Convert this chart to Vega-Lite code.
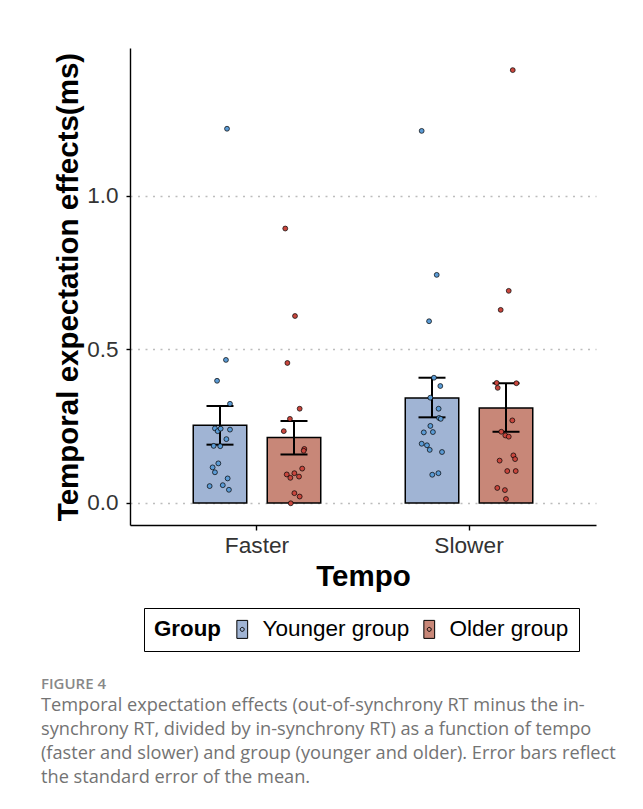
{
  "$schema": "https://vega.github.io/schema/vega-lite/v6.json",
  "width": 466,
  "height": 477,
  "autosize": {"type": "none"},
  "padding": {"left": 130, "top": 48, "right": 47, "bottom": 284},
  "background": "white",
  "config": {
    "font": "Liberation Sans",
    "view": {"stroke": null}
  },
  "datasets": {
    "summary": [
      {"tempo": "Faster", "group": "Younger group", "mean": 0.253, "lo": 0.190, "hi": 0.316},
      {"tempo": "Faster", "group": "Older group", "mean": 0.213, "lo": 0.158, "hi": 0.267},
      {"tempo": "Slower", "group": "Younger group", "mean": 0.342, "lo": 0.279, "hi": 0.408},
      {"tempo": "Slower", "group": "Older group", "mean": 0.309, "lo": 0.232, "hi": 0.390}
    ],
    "points": [
      {"tempo": "Faster", "group": "Younger group", "xpos": 0.858, "value": 1.219},
      {"tempo": "Faster", "group": "Younger group", "xpos": 0.853, "value": 0.466},
      {"tempo": "Faster", "group": "Younger group", "xpos": 0.811, "value": 0.398},
      {"tempo": "Faster", "group": "Younger group", "xpos": 0.872, "value": 0.323},
      {"tempo": "Faster", "group": "Younger group", "xpos": 0.801, "value": 0.243},
      {"tempo": "Faster", "group": "Younger group", "xpos": 0.814, "value": 0.234},
      {"tempo": "Faster", "group": "Younger group", "xpos": 0.828, "value": 0.242},
      {"tempo": "Faster", "group": "Younger group", "xpos": 0.872, "value": 0.239},
      {"tempo": "Faster", "group": "Younger group", "xpos": 0.855, "value": 0.208},
      {"tempo": "Faster", "group": "Younger group", "xpos": 0.795, "value": 0.186},
      {"tempo": "Faster", "group": "Younger group", "xpos": 0.826, "value": 0.185},
      {"tempo": "Faster", "group": "Younger group", "xpos": 0.817, "value": 0.129},
      {"tempo": "Faster", "group": "Younger group", "xpos": 0.790, "value": 0.116},
      {"tempo": "Faster", "group": "Younger group", "xpos": 0.801, "value": 0.100},
      {"tempo": "Faster", "group": "Younger group", "xpos": 0.861, "value": 0.080},
      {"tempo": "Faster", "group": "Younger group", "xpos": 0.776, "value": 0.055},
      {"tempo": "Faster", "group": "Younger group", "xpos": 0.838, "value": 0.058},
      {"tempo": "Faster", "group": "Younger group", "xpos": 0.867, "value": 0.043},
      {"tempo": "Faster", "group": "Older group", "xpos": 1.133, "value": 0.894},
      {"tempo": "Faster", "group": "Older group", "xpos": 1.179, "value": 0.609},
      {"tempo": "Faster", "group": "Older group", "xpos": 1.143, "value": 0.456},
      {"tempo": "Faster", "group": "Older group", "xpos": 1.201, "value": 0.307},
      {"tempo": "Faster", "group": "Older group", "xpos": 1.155, "value": 0.274},
      {"tempo": "Faster", "group": "Older group", "xpos": 1.126, "value": 0.234},
      {"tempo": "Faster", "group": "Older group", "xpos": 1.223, "value": 0.176},
      {"tempo": "Faster", "group": "Older group", "xpos": 1.220, "value": 0.170},
      {"tempo": "Faster", "group": "Older group", "xpos": 1.213, "value": 0.112},
      {"tempo": "Faster", "group": "Older group", "xpos": 1.140, "value": 0.093},
      {"tempo": "Faster", "group": "Older group", "xpos": 1.157, "value": 0.082},
      {"tempo": "Faster", "group": "Older group", "xpos": 1.176, "value": 0.097},
      {"tempo": "Faster", "group": "Older group", "xpos": 1.198, "value": 0.086},
      {"tempo": "Faster", "group": "Older group", "xpos": 1.176, "value": 0.032},
      {"tempo": "Faster", "group": "Older group", "xpos": 1.201, "value": 0.021},
      {"tempo": "Faster", "group": "Older group", "xpos": 1.159, "value": -0.001},
      {"tempo": "Slower", "group": "Younger group", "xpos": 1.777, "value": 1.212},
      {"tempo": "Slower", "group": "Younger group", "xpos": 1.848, "value": 0.743},
      {"tempo": "Slower", "group": "Younger group", "xpos": 1.812, "value": 0.592},
      {"tempo": "Slower", "group": "Younger group", "xpos": 1.835, "value": 0.408},
      {"tempo": "Slower", "group": "Younger group", "xpos": 1.865, "value": 0.381},
      {"tempo": "Slower", "group": "Younger group", "xpos": 1.818, "value": 0.343},
      {"tempo": "Slower", "group": "Younger group", "xpos": 1.857, "value": 0.307},
      {"tempo": "Slower", "group": "Younger group", "xpos": 1.859, "value": 0.277},
      {"tempo": "Slower", "group": "Younger group", "xpos": 1.867, "value": 0.274},
      {"tempo": "Slower", "group": "Younger group", "xpos": 1.818, "value": 0.251},
      {"tempo": "Slower", "group": "Younger group", "xpos": 1.787, "value": 0.230},
      {"tempo": "Slower", "group": "Younger group", "xpos": 1.830, "value": 0.231},
      {"tempo": "Slower", "group": "Younger group", "xpos": 1.777, "value": 0.193},
      {"tempo": "Slower", "group": "Younger group", "xpos": 1.802, "value": 0.188},
      {"tempo": "Slower", "group": "Younger group", "xpos": 1.815, "value": 0.173},
      {"tempo": "Slower", "group": "Younger group", "xpos": 1.873, "value": 0.166},
      {"tempo": "Slower", "group": "Younger group", "xpos": 1.827, "value": 0.092},
      {"tempo": "Slower", "group": "Younger group", "xpos": 1.856, "value": 0.097},
      {"tempo": "Slower", "group": "Older group", "xpos": 2.207, "value": 1.410},
      {"tempo": "Slower", "group": "Older group", "xpos": 2.188, "value": 0.691},
      {"tempo": "Slower", "group": "Older group", "xpos": 2.150, "value": 0.629},
      {"tempo": "Slower", "group": "Older group", "xpos": 2.131, "value": 0.391},
      {"tempo": "Slower", "group": "Older group", "xpos": 2.224, "value": 0.390},
      {"tempo": "Slower", "group": "Older group", "xpos": 2.136, "value": 0.375},
      {"tempo": "Slower", "group": "Older group", "xpos": 2.205, "value": 0.269},
      {"tempo": "Slower", "group": "Older group", "xpos": 2.153, "value": 0.232},
      {"tempo": "Slower", "group": "Older group", "xpos": 2.172, "value": 0.220},
      {"tempo": "Slower", "group": "Older group", "xpos": 2.188, "value": 0.216},
      {"tempo": "Slower", "group": "Older group", "xpos": 2.210, "value": 0.155},
      {"tempo": "Slower", "group": "Older group", "xpos": 2.218, "value": 0.143},
      {"tempo": "Slower", "group": "Older group", "xpos": 2.145, "value": 0.138},
      {"tempo": "Slower", "group": "Older group", "xpos": 2.181, "value": 0.104},
      {"tempo": "Slower", "group": "Older group", "xpos": 2.221, "value": 0.104},
      {"tempo": "Slower", "group": "Older group", "xpos": 2.134, "value": 0.049},
      {"tempo": "Slower", "group": "Older group", "xpos": 2.170, "value": 0.042},
      {"tempo": "Slower", "group": "Older group", "xpos": 2.175, "value": 0.013}
    ]
  },
  "title": {
    "text": "FIGURE 4",
    "subtitle": [
      "Temporal expectation effects (out-of-synchrony RT minus the in-",
      "synchrony RT, divided by in-synchrony RT) as a function of tempo",
      "(faster and slower) and group (younger and older). Error bars reflect",
      "the standard error of the mean."
    ],
    "orient": "bottom",
    "anchor": "start",
    "frame": "group",
    "offset": 25,
    "dx": -89,
    "font": "Open Sans",
    "fontSize": 15,
    "fontWeight": 600,
    "color": "#888888",
    "subtitleFont": "Open Sans",
    "subtitleFontSize": 18.2,
    "subtitleColor": "#737373",
    "subtitleLineHeight": 24,
    "subtitlePadding": 5
  },
  "layer": [
    {
      "data": {"name": "summary"},
      "layer": [
        {
          "mark": {"type": "bar", "stroke": "black", "strokeWidth": 1.5},
          "encoding": {
            "x": {
              "field": "tempo", "type": "nominal", "title": "Tempo",
              "scale": {"domain": ["Faster", "Slower"], "paddingInner": 0, "paddingOuter": 0.099},
              "axis": {
                "labelAngle": 0, "labelFontSize": 22.7, "labelColor": "#333333",
                "titleFontSize": 29.5, "titleFontWeight": "bold", "titleColor": "black",
                "tickSize": 5, "tickColor": "black", "tickWidth": 1.4,
                "domainColor": "black", "domainWidth": 1.4,
                "labelPadding": 4, "titlePadding": 6, "grid": false, "bandPosition": 0.5
              }
            },
            "xOffset": {
              "field": "group", "type": "nominal",
              "scale": {"domain": ["Younger group", "Older group"], "paddingInner": 0.277, "paddingOuter": 0.571}
            },
            "y": {
              "field": "mean", "type": "quantitative", "title": "Temporal expectation effects(ms)",
              "scale": {"domain": [-0.0717, 1.482], "nice": false, "zero": false},
              "axis": {
                "values": [0, 0.5, 1], "format": ".1f",
                "labelFontSize": 22.5, "labelColor": "#333333",
                "titleFontSize": 29.5, "titleFontWeight": "bold", "titleColor": "black",
                "tickSize": 4, "tickColor": "black", "tickWidth": 1.4,
                "domainColor": "black", "domainWidth": 1.4,
                "labelPadding": 8, "titlePadding": 3,
                "grid": true, "gridColor": "#BDBDBD", "gridDash": [2, 5.5], "gridWidth": 1.5
              }
            },
            "y2": {"datum": 0},
            "fill": {
              "field": "group", "type": "nominal", "title": "Group",
              "scale": {"domain": ["Younger group", "Older group"], "range": ["#A0B4D4", "#C88778"]},
              "legend": {
                "orient": "none", "legendX": 14, "legendY": 560,
                "direction": "horizontal", "titleOrient": "left",
                "titleFontSize": 22.3, "titleFontWeight": "bold", "titleColor": "black", "titlePadding": 10,
                "labelFontSize": 22.5, "labelColor": "black", "labelOffset": 9, "columnPadding": 8,
                "symbolType": "M-0.6,-1H0.6V1H-0.6Z M0.22,0A0.22,0.22 0 1 1 -0.22,0A0.22,0.22 0 1 1 0.22,0Z",
                "symbolSize": 324, "symbolStrokeColor": "black", "symbolStrokeWidth": 1, "symbolOpacity": 1,
                "strokeColor": "black", "padding": 10
              }
            }
          }
        },
        {
          "mark": {"type": "rule", "stroke": "black", "strokeWidth": 2},
          "encoding": {
            "x": {"field": "tempo", "type": "nominal", "title": "Tempo"},
            "xOffset": {"field": "group", "type": "nominal"},
            "y": {"field": "lo", "type": "quantitative", "title": "Temporal expectation effects(ms)"},
            "y2": {"field": "hi"}
          }
        },
        {
          "mark": {"type": "tick", "color": "black", "thickness": 2, "size": 27, "opacity": 1},
          "encoding": {
            "x": {"field": "tempo", "type": "nominal", "title": "Tempo"},
            "xOffset": {"field": "group", "type": "nominal"},
            "y": {"field": "lo", "type": "quantitative", "title": "Temporal expectation effects(ms)"}
          }
        },
        {
          "mark": {"type": "tick", "color": "black", "thickness": 2, "size": 27, "opacity": 1},
          "encoding": {
            "x": {"field": "tempo", "type": "nominal", "title": "Tempo"},
            "xOffset": {"field": "group", "type": "nominal"},
            "y": {"field": "hi", "type": "quantitative", "title": "Temporal expectation effects(ms)"}
          }
        }
      ]
    },
    {
      "data": {"name": "points"},
      "mark": {"type": "point", "filled": true, "stroke": "black", "strokeWidth": 0.7, "size": 24, "opacity": 1},
      "encoding": {
        "x": {"field": "xpos", "type": "quantitative", "scale": {"domain": [0.4, 2.6], "nice": false, "zero": false}, "axis": null},
        "y": {"field": "value", "type": "quantitative", "title": "Temporal expectation effects(ms)"},
        "color": {
          "field": "group", "type": "nominal",
          "scale": {"domain": ["Younger group", "Older group"], "range": ["#5B9BD5", "#C9463D"]},
          "legend": null
        }
      }
    }
  ],
  "resolve": {"scale": {"x": "independent"}, "axis": {"x": "independent"}}
}
